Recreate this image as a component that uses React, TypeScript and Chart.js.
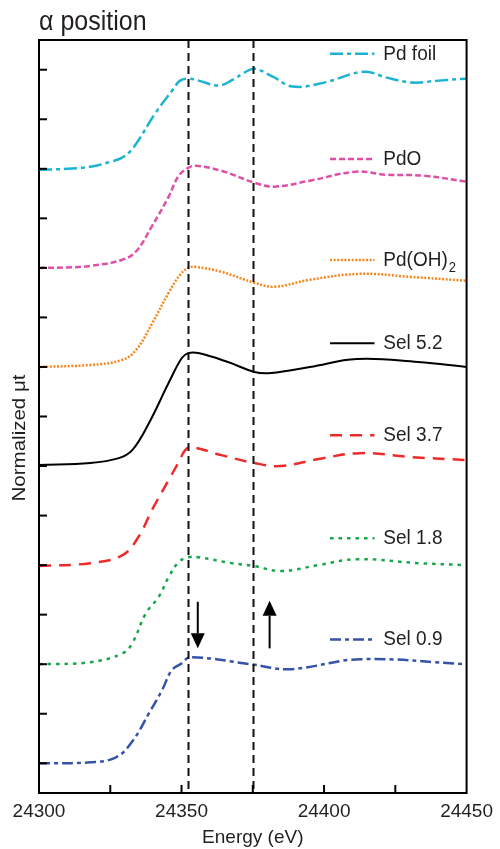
import React, { useEffect, useRef } from 'react';
import { Chart, registerables } from 'chart.js';
Chart.register(...registerables);

// ---- data (energy in eV, offset normalized absorption) ----
const pdFoilE = [24300, 24310, 24318, 24325, 24329, 24333, 24341, 24347, 24349.5, 24352.4, 24356, 24363, 24368, 24372, 24375.6, 24382, 24389, 24400, 24414, 24422, 24431, 24440, 24450];
const pdFoilMu = [5.99, 6.0, 6.02, 6.07, 6.11, 6.21, 6.57, 6.8, 6.89, 6.91, 6.89, 6.84, 6.9, 6.97, 7.01, 6.93, 6.83, 6.87, 6.98, 6.92, 6.87, 6.89, 6.91];

const pdOE = [24300, 24310, 24318, 24329, 24334, 24339.6, 24345.5, 24349, 24352.4, 24355, 24364, 24375.6, 24382.5, 24395, 24411, 24422, 24435, 24450];
const pdOMu = [5.0, 5.005, 5.02, 5.08, 5.165, 5.42, 5.72, 5.93, 6.01, 6.03, 5.98, 5.86, 5.82, 5.88, 5.97, 5.94, 5.93, 5.87];

const pdOH2E = [24300, 24318, 24329, 24334, 24339.7, 24345.5, 24349.5, 24352.4, 24355, 24364, 24375.6, 24382.5, 24395, 24412.6, 24430, 24450];
const pdOH2Mu = [4.0, 4.02, 4.07, 4.17, 4.44, 4.75, 4.93, 5.0, 5.01, 4.96, 4.85, 4.81, 4.88, 4.94, 4.91, 4.87];

const sel52E = [24300, 24318, 24328, 24332.7, 24338.5, 24345.5, 24350.1, 24352.4, 24355.9, 24366.3, 24375.6, 24381.4, 24395, 24411.5, 24433, 24450];
const sel52Mu = [3.01, 3.03, 3.08, 3.16, 3.43, 3.84, 4.09, 4.14, 4.14, 4.05, 3.95, 3.94, 4.0, 4.08, 4.05, 4.0];

const sel37E = [24300, 24318, 24329.3, 24335, 24339.7, 24345.5, 24349, 24351.3, 24353.6, 24364, 24375.6, 24384.8, 24398, 24412.6, 24431, 24450];
const sel37Mu = [1.99, 2.02, 2.1, 2.29, 2.56, 2.86, 3.04, 3.16, 3.19, 3.11, 3.03, 3.0, 3.07, 3.13, 3.09, 3.06];

const sel18E = [24300, 24318, 24329.3, 24332.7, 24337.4, 24342, 24345.5, 24349, 24352.4, 24355.9, 24367.5, 24375.6, 24384.8, 24398, 24411.5, 24433, 24450];
const sel18Mu = [1.0, 1.02, 1.11, 1.21, 1.51, 1.68, 1.88, 2.03, 2.08, 2.08, 2.02, 1.99, 1.94, 2.0, 2.06, 2.02, 2.0];

const sel09E = [24300, 24318, 24327, 24332.7, 24338.5, 24343.2, 24346.6, 24350.1, 24353, 24374.3, 24388, 24412.6, 24450];
const sel09Mu = [0.0, 0.01, 0.06, 0.22, 0.5, 0.74, 0.94, 1.01, 1.07, 1.0, 0.95, 1.05, 1.0];

const seriesLabels = ['Pd foil', 'PdO', 'Pd(OH)2', 'Sel 5.2', 'Sel 3.7', 'Sel 1.8', 'Sel 0.9'];
const legendY = [7.16, 6.1, 5.08, 4.24, 3.31, 2.27, 1.25];
const xTickValues = [24300, 24350, 24400, 24450];
const refLinesE = [24352.3, 24375.1];
const arrowDown = { x: 24355.7, from: 1.63, to: 1.16 };
const arrowUp = { x: 24380.9, from: 1.16, to: 1.64 };

// ---- styles ----
const FONT = "'Liberation Sans', Arial, Helvetica, sans-serif";
const TEXT = '#231f20';
const seriesStyles = [
  { color: '#1cb3d3', dash: [13, 4, 4, 4], width: 2.5 },
  { color: '#de4fa6', dash: [6, 3], width: 2.5 },
  { color: '#f7861c', dash: [2, 1.6], width: 2.5 },
  { color: '#000000', dash: [], width: 2 },
  { color: '#ee2b2b', dash: [12, 8], width: 2.5 },
  { color: '#17a64a', dash: [3.5, 5], width: 2.5 },
  { color: '#3553a8', dash: [11, 4, 4, 4], width: 2.5 },
];

const seriesData = [
  [pdFoilE, pdFoilMu],
  [pdOE, pdOMu],
  [pdOH2E, pdOH2Mu],
  [sel52E, sel52Mu],
  [sel37E, sel37Mu],
  [sel18E, sel18Mu],
  [sel09E, sel09Mu],
];

const decorPlugin = {
  id: 'decor',
  afterDraw(chart: any) {
    const ctx = chart.ctx as CanvasRenderingContext2D;
    const { left, right, top, bottom } = chart.chartArea;
    const xs = chart.scales.x;
    const ys = chart.scales.y;
    ctx.save();

    // dashed reference lines
    ctx.strokeStyle = '#111';
    ctx.lineWidth = 2;
    ctx.setLineDash([8, 5]);
    refLinesE.forEach((e) => {
      const px = Math.round(xs.getPixelForValue(e)) + 0.5;
      ctx.beginPath();
      ctx.moveTo(px, top);
      ctx.lineTo(px, bottom);
      ctx.stroke();
    });
    ctx.setLineDash([]);

    // frame
    ctx.strokeStyle = '#000';
    ctx.lineWidth = 2;
    ctx.strokeRect(left, top, right - left, bottom - top);

    // inward ticks
    for (let v = 24325; v < 24450; v += 25) {
      const px = xs.getPixelForValue(v);
      ctx.beginPath();
      ctx.moveTo(px, bottom);
      ctx.lineTo(px, bottom - 8);
      ctx.stroke();
    }
    for (let v = 0; v <= 7.001; v += 0.5) {
      const py = ys.getPixelForValue(v);
      ctx.beginPath();
      ctx.moveTo(left, py);
      ctx.lineTo(left + 8, py);
      ctx.stroke();
    }

    // arrows
    const drawArrow = (a: { x: number; from: number; to: number }) => {
      const px = xs.getPixelForValue(a.x);
      const y0 = ys.getPixelForValue(a.from);
      const y1 = ys.getPixelForValue(a.to);
      const dir = y1 > y0 ? 1 : -1;
      const headLen = 15;
      ctx.strokeStyle = '#000';
      ctx.fillStyle = '#000';
      ctx.lineWidth = 2;
      ctx.beginPath();
      ctx.moveTo(px, y0);
      ctx.lineTo(px, y1 - dir * headLen);
      ctx.stroke();
      ctx.beginPath();
      ctx.moveTo(px, y1);
      ctx.lineTo(px - 7, y1 - dir * headLen);
      ctx.lineTo(px + 7, y1 - dir * headLen);
      ctx.closePath();
      ctx.fill();
    };
    drawArrow(arrowDown);
    drawArrow(arrowUp);

    // legend entries
    const lx0 = xs.getPixelForValue(24402.1);
    const lx1 = xs.getPixelForValue(24417.7);
    const tx = xs.getPixelForValue(24420.8);
    ctx.textBaseline = 'middle';
    ctx.textAlign = 'left';
    seriesLabels.forEach((lab, i) => {
      const st = seriesStyles[i];
      const py = ys.getPixelForValue(legendY[i]);
      ctx.strokeStyle = st.color;
      ctx.lineWidth = st.width;
      ctx.setLineDash(st.dash);
      ctx.beginPath();
      ctx.moveTo(lx0, py);
      ctx.lineTo(lx1, py);
      ctx.stroke();
      ctx.setLineDash([]);
      ctx.fillStyle = TEXT;
      ctx.save();
      ctx.translate(tx, py);
      ctx.scale(1, 1.08);
      if (lab.endsWith(')2')) {
        const main = lab.slice(0, -1);
        ctx.font = `19px ${FONT}`;
        ctx.fillText(main, 0, 0);
        const w = ctx.measureText(main).width;
        ctx.font = `13px ${FONT}`;
        ctx.fillText('2', w + 1, 8);
      } else {
        ctx.font = `19px ${FONT}`;
        ctx.fillText(lab, 0, 0);
      }
      ctx.restore();
    });

    // title
    ctx.fillStyle = TEXT;
    ctx.save();
    ctx.translate(left, 30);
    ctx.scale(1, 1.08);
    ctx.font = `25px ${FONT}`;
    ctx.textBaseline = 'alphabetic';
    ctx.textAlign = 'left';
    ctx.fillText('α position', 0, 0);
    ctx.restore();

    // y axis title
    ctx.save();
    ctx.translate(20, 438);
    ctx.rotate(-Math.PI / 2);
    ctx.scale(1.08, 1);
    ctx.font = `19px ${FONT}`;
    ctx.textAlign = 'center';
    ctx.textBaseline = 'middle';
    ctx.fillText('Normalized μt', 0, 0);
    ctx.restore();

    ctx.restore();
  },
};

export default function App() {
  const ref = useRef<HTMLCanvasElement | null>(null);
  useEffect(() => {
    if (!ref.current) return;
    const datasets = seriesData.map(([es, mus], i) => ({
      label: seriesLabels[i],
      data: es.map((e, j) => ({ x: e, y: mus[j] })),
      borderColor: seriesStyles[i].color,
      borderWidth: seriesStyles[i].width,
      borderDash: seriesStyles[i].dash,
      pointRadius: 0,
      fill: false,
      tension: 0.4,
    }));
    const chart = new Chart(ref.current, {
      type: 'line',
      data: { datasets },
      options: {
        animation: false,
        responsive: false,
        devicePixelRatio: 1,
        layout: { padding: { top: 40, right: 29, left: 0, bottom: 0 } },
        plugins: { legend: { display: false }, tooltip: { enabled: false }, title: { display: false } },
        scales: {
          x: {
            type: 'linear',
            min: 24300,
            max: 24450,
            afterBuildTicks: (s: any) => {
              s.ticks = xTickValues.map((v) => ({ value: v }));
            },
            ticks: {
              color: TEXT,
              font: { size: 19, family: FONT },
              padding: 7,
              maxRotation: 0,
              autoSkip: false,
              callback: (v: any) => String(v),
            },
            grid: { display: false, drawTicks: false },
            border: { display: false },
            title: {
              display: true,
              text: 'Energy (eV)',
              color: TEXT,
              font: { size: 19, family: FONT },
              padding: { top: 0, bottom: 0 },
            },
            afterFit: (s: any) => {
              s.height = 56;
            },
          },
          y: {
            type: 'linear',
            min: -0.3,
            max: 7.3,
            ticks: { display: false },
            grid: { display: false, drawTicks: false },
            border: { display: false },
            afterFit: (s: any) => {
              s.width = 39;
            },
          },
        },
      },
      plugins: [decorPlugin],
    });
    return () => chart.destroy();
  }, []);
  return (
    <div style={{ position: 'absolute', left: 0, top: 0, width: 500, height: 849, background: '#fff' }}>
      <canvas ref={ref} width={500} height={849} style={{ width: 500, height: 849 }} />
    </div>
  );
}
